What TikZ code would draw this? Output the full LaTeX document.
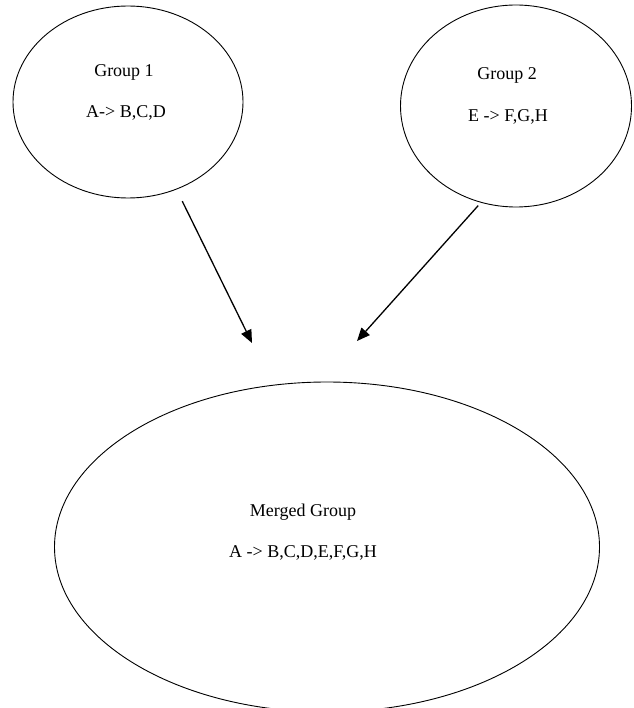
\documentclass[tikz,border=0pt]{standalone}
\usepackage{fontspec}
\setmainfont{Liberation Serif}
\usetikzlibrary{shapes.geometric,arrows.meta}

\begin{document}
\begin{tikzpicture}[x=1pt, y=-1pt,
  every node/.style={font=\fontsize{18}{22}\selectfont},
  grp/.style={ellipse, draw, line width=0.9pt, inner sep=0pt},
  arr/.style={line width=1.3pt, -{Triangle[length=13pt, width=11pt]}}]

\useasboundingbox (0,0) rectangle (633,708);
\clip (0,0) rectangle (633,708);

% Group 1
\node[grp, minimum width=230, minimum height=192] (g1) at (128,102) {};
\node (g1title) at (124,72) {Group 1};
\node (g1rule) at (126,113) {A-> B,C,D};

% Group 2
\node[grp, minimum width=231, minimum height=202] (g2) at (516,106) {};
\node (g2title) at (507,75) {Group 2};
\node (g2rule) at (508,117) {E -> F,G,H};

% Merged group
\node[grp, minimum width=545, minimum height=330] (mg) at (327,547) {};
\node (mgtitle) at (303,512) {Merged Group};
\node (mgrule) at (303,553) {A -> B,C,D,E,F,G,H};

% Arrows (free ends)
\coordinate (tip1) at (252,343);
\coordinate (tip2) at (357,341);
\draw[arr, shorten <=13pt] (g1.-61) -- (tip1);
\draw[arr, shorten <=4pt] (g2.-110) -- (tip2);

\end{tikzpicture}
\end{document}
